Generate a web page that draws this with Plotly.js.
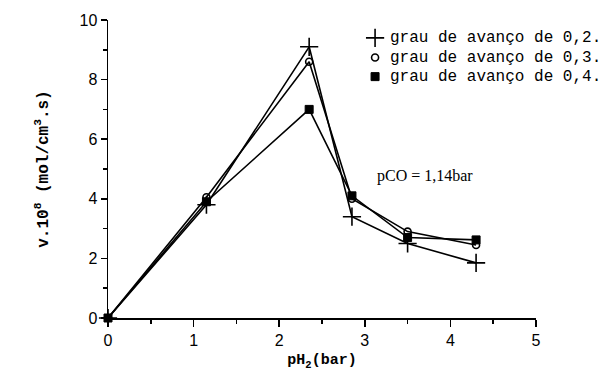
<!DOCTYPE html>
<html><head><meta charset="utf-8">
<script src="https://cdn.plot.ly/plotly-3.0.1.min.js"></script>
<style>html,body{margin:0;padding:0;background:#fff;}#plot{width:615px;height:375px;}</style>
</head><body><div id="plot"></div>
<script>
const xVals = [0, 1.15, 2.35, 2.85, 3.5, 4.3];
const y02 = [0, 3.8, 9.1, 3.4, 2.5, 1.85];
const y03 = [0, 4.05, 8.6, 4.0, 2.9, 2.45];
const y04 = [0, 3.9, 7.0, 4.1, 2.7, 2.62];
const seriesNames = ["grau de avanço de 0,2.", "grau de avanço de 0,3.", "grau de avanço de 0,4."];
const xTitle = "pH<sub>2</sub>(bar)";
const yTitle = "v.10<sup>8</sup> (mol/cm<sup>3</sup>.s)";
const noteText = "pCO = 1,14bar";

const line = {color: '#000', width: 1.6};
const mk = [
  {symbol: 'cross-thin-open', size: 13, color: '#000', line: {color: '#000', width: 1.6}},
  {symbol: 'circle-open', size: 7, color: '#000', line: {color: '#000', width: 1.6}},
  {symbol: 'square', size: 8, color: '#000', line: {color: '#000', width: 1}}
];
const ys = [y02, y03, y04];
const traces = [];
ys.forEach((y, i) => {
  traces.push({x: xVals, y: y, mode: 'lines+markers', line: line, marker: mk[i], showlegend: false, cliponaxis: false});
});
// legend key markers, placed on a hidden overlay axis spanning the plot area
const legX = 0.624;
const legY = [0.94, 0.874, 0.81];
const annotations = [];
ys.forEach((y, i) => {
  traces.push({x: [legX], y: [legY[i]], xaxis: 'x2', yaxis: 'y2', mode: 'markers', marker: mk[i], showlegend: false, cliponaxis: false});
  annotations.push({x: legX + 0.03, y: legY[i], xref: 'x2', yref: 'y2', xanchor: 'left', yanchor: 'middle', showarrow: false,
    text: seriesNames[i], font: {family: 'Liberation Mono, DejaVu Sans Mono, monospace', size: 16, color: '#000'}});
});
annotations.push({x: 3.12, y: 4.75, xref: 'x', yref: 'y', xanchor: 'left', yanchor: 'middle', showarrow: false,
    text: noteText, font: {family: 'Liberation Serif, Times New Roman, serif', size: 16, color: '#000'}});

const layout = {
  width: 615, height: 375,
  margin: {l: 108, r: 79, t: 20, b: 57},
  paper_bgcolor: '#fff', plot_bgcolor: '#fff',
  showlegend: false,
  xaxis: {range: [0, 5], dtick: 1, ticks: 'outside', ticklen: 7, tickwidth: 1.5, tickcolor: '#000',
    showline: true, linecolor: '#000', linewidth: 1.5, showgrid: false, zeroline: false,
    minor: {dtick: 0.5, ticks: 'outside', ticklen: 4, tickcolor: '#000', tickwidth: 1.5, showgrid: false},
    tickfont: {family: 'Liberation Sans, Arial, sans-serif', size: 16, color: '#000'},
    title: {text: xTitle, standoff: 6, font: {family: 'Liberation Mono, monospace', size: 15, color: '#000', weight: 'bold'}}},
  yaxis: {range: [0, 10], dtick: 2, ticks: 'outside', ticklen: 6, tickwidth: 1.5, tickcolor: '#000',
    showline: true, linecolor: '#000', linewidth: 1.5, showgrid: false, zeroline: false,
    minor: {dtick: 1, ticks: 'outside', ticklen: 4, tickcolor: '#000', tickwidth: 1.5, showgrid: false},
    tickfont: {family: 'Liberation Sans, Arial, sans-serif', size: 16, color: '#000'},
    title: {text: yTitle, standoff: 27, font: {family: 'Liberation Mono, monospace', size: 16, color: '#000', weight: 'bold'}}},
  xaxis2: {overlaying: 'x', range: [0, 1], visible: false, fixedrange: true},
  yaxis2: {overlaying: 'y', range: [0, 1], visible: false, fixedrange: true},
  annotations: annotations
};
Plotly.newPlot('plot', traces, layout, {displayModeBar: false, staticPlot: true});
</script></body></html>
